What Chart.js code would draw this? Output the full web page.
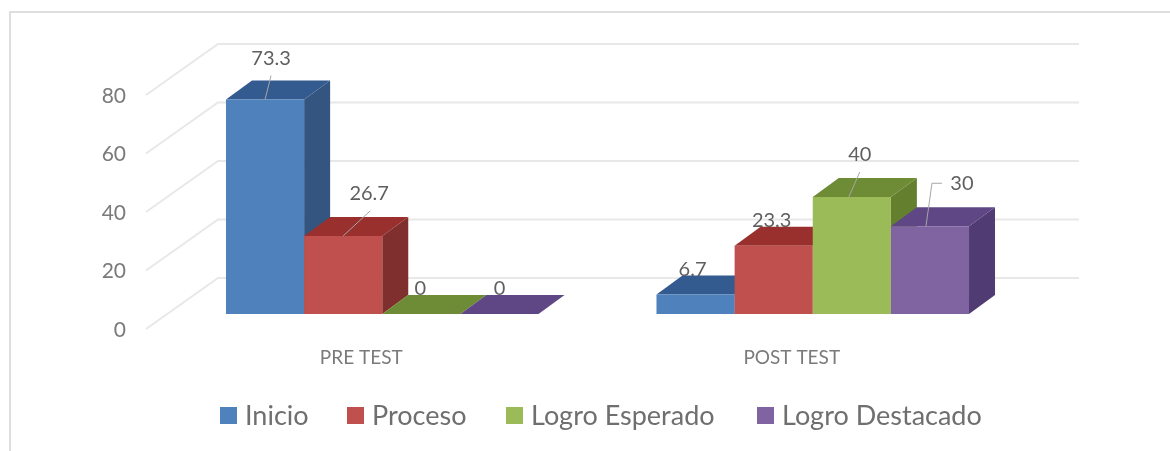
<!DOCTYPE html>
<html>
<head>
<meta charset="utf-8">
<script src="https://cdn.jsdelivr.net/npm/chart.js@4"></script>
<style>
    html, body { margin: 0; padding: 0; background: #fff; }
    #wrap { position: relative; width: 1170px; height: 451px; overflow: hidden; }
    #frame { position: absolute; left: 9px; top: 11px; width: 1200px; height: 460px; border: solid #dfdfdf; border-width: 2px 0 0 2px; }
    canvas { position: absolute; left: 0; top: 0; }
    .legend-item { position: absolute; top: 400px; font: 27px Lato, sans-serif; line-height: 30px; color: #6f6f6f; white-space: nowrap; }
    .legend-item i { position: absolute; left: -25px; top: 7px; width: 17px; height: 17px; }
</style>
</head>
<body>
<div id="wrap">
    <div id="frame"></div>
    <canvas id="chart" width="1170" height="451"></canvas>
</div>
<script>
const categories = ["PRE TEST", "POST TEST"];
const seriesNames = ["Inicio", "Proceso", "Logro Esperado", "Logro Destacado"];
const inicio = [73.3, 6.7];
const proceso = [26.7, 23.3];
const logroEsperado = [0, 40];
const logroDestacado = [0, 30];
const yTicks = [0, 20, 40, 60, 80];

const frontColors = ["#4F81BD", "#C0504D", "#9BBB59", "#8064A2"];
const sideColors = ["#34557F", "#7F2F2D", "#64802F", "#503C73"];
const topColors = ["#345B8F", "#99302D", "#6E8C36", "#5F4684"];

// legend text start, x in px
const legendX = [245, 372, 531, 782];

// where each value label sits relative to the bar's front top centre,
// and the leader line if there is one
const labelLayout = [
    [{ dx: 6, dy: -41, leader: [[0, 0], [6, -24]] }, { dx: -3, dy: -25 }],
    [{ dx: 26, dy: -42, leader: [[0, 0], [27, -25]] }, { dx: -2, dy: -25 }],
    [{ dx: -1, dy: -25 }, { dx: 8, dy: -42, leader: [[-3, 0], [8, -25]] }],
    [{ dx: 0, dy: -25 }, { dx: 32, dy: -43, leader: [[-4, 0], [2, -43], [12, -43]] }]
];

const WALL_DX = 72, WALL_DY = -51;   // floor depth
const BAR_DX = 21, BAR_DY = -15;     // bars stand inside the floor
const DEPTH_DX = 26, DEPTH_DY = -19; // depth of one bar

function poly(ctx, pts, color) {
    ctx.beginPath();
    pts.forEach((p, i) => i ? ctx.lineTo(p[0], p[1]) : ctx.moveTo(p[0], p[1]));
    ctx.closePath();
    ctx.fillStyle = color;
    ctx.fill();
}

const wallPlugin = {
    id: "wall",
    beforeDatasetsDraw(chart) {
        const ctx = chart.ctx, area = chart.chartArea, y = chart.scales.y;
        ctx.save();
        ctx.strokeStyle = "#e8e8e8";
        ctx.lineWidth = 2;
        y.ticks.forEach(t => {
            const py = y.getPixelForValue(t.value);
            ctx.beginPath();
            ctx.moveTo(area.left, py);
            ctx.lineTo(area.left + WALL_DX, py + WALL_DY);
            ctx.lineTo(area.right + WALL_DX, py + WALL_DY);
            ctx.stroke();
        });
        ctx.restore();
    }
};

const bar3dPlugin = {
    id: "bar3d",
    beforeDatasetsDraw(chart) {
        const ctx = chart.ctx;
        chart.data.datasets.forEach((ds, i) => {
            chart.getDatasetMeta(i).data.forEach(el => {
                const p = el.getProps(["x", "y", "base", "width"], true);
                const l = p.x - p.width / 2 + BAR_DX, r = p.x + p.width / 2 + BAR_DX;
                const t = p.y + BAR_DY, b = p.base + BAR_DY;
                poly(ctx, [[r, t], [r + DEPTH_DX, t + DEPTH_DY], [r + DEPTH_DX, b + DEPTH_DY], [r, b]], sideColors[i]);
                poly(ctx, [[l, t], [r, t], [r + DEPTH_DX, t + DEPTH_DY], [l + DEPTH_DX, t + DEPTH_DY]], topColors[i]);
                ctx.save();
                ctx.translate(BAR_DX, BAR_DY);
                el.draw(ctx);
                ctx.restore();
            });
        });
        return false; // front faces are done above, in left to right order
    }
};

// afterDraw, because cancelling beforeDatasetsDraw also skips afterDatasetsDraw
const labelPlugin = {
    id: "valueLabels",
    afterDraw(chart) {
        const ctx = chart.ctx;
        ctx.save();
        chart.data.datasets.forEach((ds, i) => {
            chart.getDatasetMeta(i).data.forEach((el, j) => {
                const x = el.x + BAR_DX, y = el.y + BAR_DY;
                const lay = labelLayout[i][j];
                if (lay.leader) {
                    ctx.strokeStyle = "#a6a6a6";
                    ctx.lineWidth = 1;
                    ctx.beginPath();
                    lay.leader.forEach((q, k) => k ? ctx.lineTo(x + q[0], y + q[1]) : ctx.moveTo(x + q[0], y + q[1]));
                    ctx.stroke();
                }
                ctx.fillStyle = "#5f5f5f";
                ctx.font = "20px Lato";
                ctx.textAlign = "center";
                ctx.textBaseline = "middle";
                ctx.fillText(String(ds.data[j]), x + lay.dx, y + lay.dy);
            });
        });
        ctx.restore();
    }
};

new Chart(document.getElementById("chart"), {
    type: "bar",
    data: {
        labels: categories,
        datasets: [inicio, proceso, logroEsperado, logroDestacado].map((d, i) => ({
            label: seriesNames[i],
            data: d,
            backgroundColor: frontColors[i],
            borderWidth: 0,
            categoryPercentage: 0.726,
            barPercentage: 1
        }))
    },
    options: {
        responsive: false,
        animation: false,
        layout: { padding: { top: 95, right: 163, left: 0, bottom: 0 } },
        plugins: { legend: { display: false }, tooltip: { enabled: false } },
        scales: {
            x: {
                afterFit: s => { s.height = 122; },
                grid: { display: false, drawTicks: false },
                border: { display: false },
                ticks: { color: "#7a7a7a", font: { family: "Lato", size: 19 }, padding: 17 }
            },
            y: {
                min: 0,
                max: 80,
                afterFit: s => { s.width = 146; },
                afterBuildTicks: s => { s.ticks = yTicks.map(v => ({ value: v })); },
                grid: { display: false, drawTicks: false },
                border: { display: false },
                ticks: { color: "#7a7a7a", font: { family: "Lato", size: 21 }, padding: 20, labelOffset: 1 }
            }
        }
    },
    plugins: [wallPlugin, bar3dPlugin, labelPlugin]
});

// legend
const wrap = document.getElementById("wrap");
seriesNames.forEach((name, i) => {
    const item = document.createElement("div");
    item.className = "legend-item";
    item.style.left = legendX[i] + "px";
    item.innerHTML = "<i style=\"background:" + frontColors[i] + "\"></i>" + name;
    wrap.appendChild(item);
});
</script>
</body>
</html>
